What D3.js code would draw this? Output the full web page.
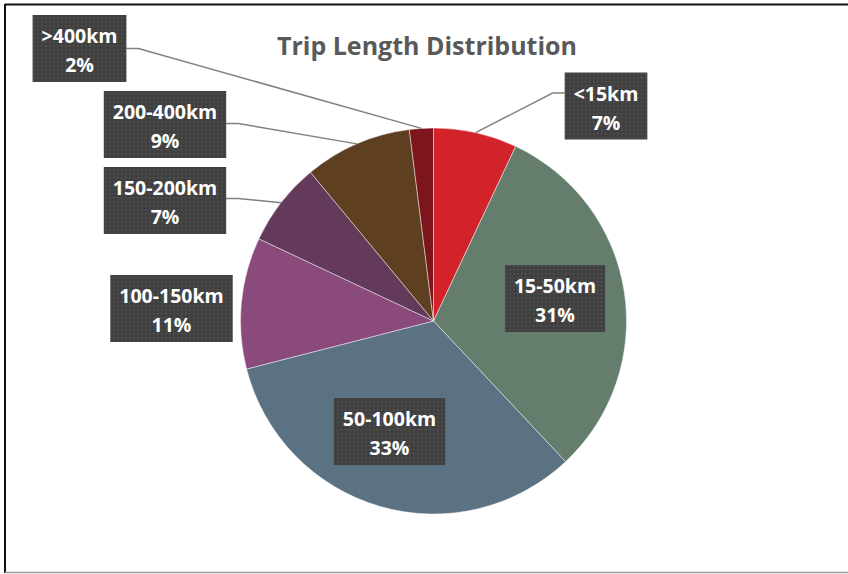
<!DOCTYPE html>
<html>
<head>
<meta charset="utf-8">
<script src="https://cdn.jsdelivr.net/npm/d3@7"></script>
<style>
  html, body { margin: 0; padding: 0; background: #ffffff; }
  svg { display: block; }
</style>
</head>
<body>
<svg id="chart" width="848" height="574"></svg>
<script>
// Trip length bands and their share of trips (%)
const categories = ["<15km", "15-50km", "50-100km", "100-150km", "150-200km", "200-400km", ">400km"];
const shares = [7, 31, 33, 11, 7, 9, 2];
const sliceColors = ["#d2232a", "#647d6d", "#5b7282", "#8a4a7c", "#633a5a", "#5e3f1f", "#7c161c"];
const chartTitle = "Trip Length Distribution";

// Label box placement (box centre) and whether a leader line joins it to its slice
const labelCenters = [[606, 106], [555, 298.5], [389.5, 431.5], [171.5, 308.5], [165, 200.5], [165, 124.5], [79.5, 48.5]];
const labelLeader = [true, false, false, false, true, true, true];
const leaderAttachDy = [-13, 0, 0, 0, -2, -1, 0];

const width = 848, height = 574;
const cx = 433.5, cy = 321, radius = 193;

const svg = d3.select("#chart");
const font = "'Open Sans', 'Noto Sans', sans-serif";

// dotted fill used behind data labels
const defs = svg.append("defs");
const pat = defs.append("pattern")
  .attr("id", "dots").attr("patternUnits", "userSpaceOnUse")
  .attr("width", 4).attr("height", 4);
pat.append("rect").attr("width", 4).attr("height", 4).attr("fill", "#404040");
pat.append("rect").attr("x", 1).attr("y", 1).attr("width", 1.5).attr("height", 1.5).attr("fill", "#555555");

// chart frame
svg.append("line").attr("x1", 5).attr("x2", width).attr("y1", 4.5).attr("y2", 4.5)
  .attr("stroke", "#111").attr("stroke-width", 2);
svg.append("line").attr("x1", 5).attr("x2", 5).attr("y1", 4).attr("y2", 573)
  .attr("stroke", "#111").attr("stroke-width", 2);
svg.append("line").attr("x1", 5).attr("x2", width).attr("y1", 572.5).attr("y2", 572.5)
  .attr("stroke", "#9a9a9a").attr("stroke-width", 1.5);

// title
svg.append("text")
  .attr("x", 427).attr("y", 55)
  .attr("text-anchor", "middle")
  .attr("font-family", font).attr("font-weight", "bold").attr("font-size", 25)
  .attr("fill", "#595959")
  .text(chartTitle);

const data = categories.map((c, i) => ({ cat: c, value: shares[i], color: sliceColors[i], i }));
const pie = d3.pie().sort(null).value(d => d.value).startAngle(0).endAngle(2 * Math.PI);
const arcs = pie(data);
const arc = d3.arc().innerRadius(0).outerRadius(radius);

const g = svg.append("g").attr("transform", `translate(${cx},${cy})`);
g.selectAll("path.slice").data(arcs).join("path")
  .attr("class", "slice")
  .attr("d", arc)
  .attr("fill", d => d.data.color)
  .attr("stroke", "#ffffff").attr("stroke-opacity", 0.6).attr("stroke-width", 0.75);

// labels
const labels = svg.append("g");
arcs.forEach((a, i) => {
  const [lx, ly] = labelCenters[i];
  const lg = labels.append("g");
  const box = lg.append("rect").attr("fill", "url(#dots)");
  const t1 = lg.append("text")
    .attr("x", lx).attr("y", ly - 5.5)
    .attr("text-anchor", "middle")
    .attr("font-family", font).attr("font-weight", "bold").attr("font-size", 19.5)
    .attr("fill", "#ffffff").text(a.data.cat);
  const t2 = lg.append("text")
    .attr("x", lx).attr("y", ly + 23.5)
    .attr("text-anchor", "middle")
    .attr("font-family", font).attr("font-weight", "bold").attr("font-size", 19.5)
    .attr("fill", "#ffffff").text(d3.format(".0f")(a.data.value) + "%");
  const w = Math.max(t1.node().getComputedTextLength(), t2.node().getComputedTextLength()) + 18;
  const h = 67;
  box.attr("x", lx - w / 2).attr("y", ly - h / 2).attr("width", w).attr("height", h);

  if (labelLeader[i]) {
    const mid = (a.startAngle + a.endAngle) / 2;
    const px = cx + radius * Math.sin(mid), py = cy - radius * Math.cos(mid);
    const rightSide = lx > cx;
    const edgeX = rightSide ? lx - w / 2 : lx + w / 2;
    const ay = ly + leaderAttachDy[i];
    const elbowX = rightSide ? edgeX - 12 : edgeX + 12;
    labels.insert("path", ":first-child")
      .attr("d", d3.line()([[px, py], [elbowX, ay], [edgeX, ay]]))
      .attr("fill", "none").attr("stroke", "#808080").attr("stroke-width", 1.5);
  }
});
</script>
</body>
</html>
